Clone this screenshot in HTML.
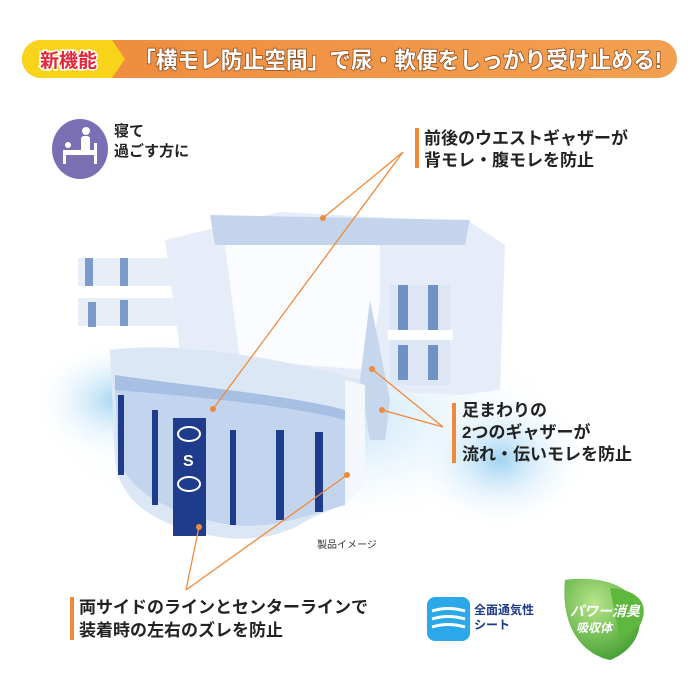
<!DOCTYPE html>
<html><head><meta charset="utf-8"><style>
body{margin:0;width:700px;height:700px;background:#fff;overflow:hidden;position:relative;font-family:"Liberation Sans","Noto Sans CJK JP",sans-serif;}
.t{position:absolute;font-weight:bold;color:#222;line-height:1.3;}
</style></head><body>
<svg width="700" height="700" style="position:absolute;left:0;top:0">
<defs>
<radialGradient id="glow" cx="0.5" cy="0.5" r="0.5"><stop offset="0" stop-color="#9fd3f2"/><stop offset="1" stop-color="#fff" stop-opacity="0"/></radialGradient>
<linearGradient id="ban" x1="0" x2="1"><stop offset="0" stop-color="#f08a3c"/><stop offset="1" stop-color="#f2a050"/></linearGradient>
<radialGradient id="leaf" cx="0.4" cy="0.3" r="0.8"><stop offset="0" stop-color="#b8e68a"/><stop offset="1" stop-color="#3c9a2c"/></radialGradient>
</defs>
<rect x="22" y="40" width="655" height="38" rx="19" fill="url(#ban)"/>
<path d="M41 40 H112 L125 59 L112 78 H41 A19 19 0 0 1 41 40Z" fill="#f7d31a"/>
<text x="40" y="67" font-size="19" font-weight="bold" fill="#e0283a" stroke="#fff" stroke-width="3" paint-order="stroke" font-family="Liberation Sans,Noto Sans CJK JP,sans-serif">新機能</text>
<text x="134" y="68" font-size="23" font-weight="bold" fill="#fff" stroke="#8a4a1e" stroke-width="1.5" paint-order="stroke" font-family="Liberation Sans,Noto Sans CJK JP,sans-serif" textLength="528" lengthAdjust="spacingAndGlyphs">「横モレ防止空間」で尿・軟便をしっかり受け止める!</text>
<ellipse cx="80" cy="149" rx="28" ry="30" fill="#7b6fb3"/>
<rect x="63" y="150" width="34" height="5" fill="#fff"/><rect x="63" y="150" width="3" height="14" fill="#fff"/><rect x="94" y="143" width="3" height="21" fill="#fff"/>
<circle cx="86" cy="131" r="4" fill="#fff"/><rect x="81" y="136" width="9" height="16" rx="3" fill="#fff"/><circle cx="68" cy="145" r="3" fill="#fff"/>
<ellipse cx="300" cy="420" rx="280" ry="110" fill="url(#glow)" opacity="0.8"/>
<ellipse cx="120" cy="400" rx="90" ry="60" fill="url(#glow)"/>
<ellipse cx="500" cy="460" rx="90" ry="70" fill="url(#glow)"/>
<rect x="78" y="258" width="100" height="28" fill="#e8eef8"/><rect x="78" y="298" width="100" height="28" fill="#e8eef8"/>
<rect x="85" y="258" width="8" height="28" fill="#7a9bc9"/><rect x="120" y="258" width="8" height="28" fill="#7a9bc9"/>
<rect x="88" y="302" width="8" height="25" fill="#7a9bc9"/><rect x="120" y="300" width="8" height="26" fill="#7a9bc9"/>
<path d="M165 240 L280 212 L470 222 L505 245 L500 390 L460 395 L360 390 L180 350 Z" fill="#e6edf9"/>
<path d="M210 215 L470 220 L465 245 L215 245Z" fill="#c4d4ec"/>
<path d="M225 245 L380 245 L380 300 L370 370 L240 360 Z" fill="#fbfcff"/>
<rect x="390" y="285" width="60" height="100" fill="#dde6f4"/>
<rect x="398" y="285" width="10" height="55" fill="#6f92c4"/><rect x="428" y="285" width="10" height="55" fill="#6f92c4"/>
<rect x="398" y="345" width="10" height="35" fill="#6f92c4"/><rect x="428" y="345" width="10" height="35" fill="#6f92c4"/>
<rect x="388" y="330" width="65" height="10" fill="#fff"/>
<path d="M370 300 L390 400 L385 440 L370 440 L360 380 Z" fill="#c6d6ec"/>
<path d="M110 350 C180 340 290 360 360 380 L365 480 C350 510 320 510 300 525 C260 545 220 540 190 530 C150 520 120 500 115 460 Z" fill="#dce7f6"/>
<path d="M115 385 C180 385 290 400 345 415 L345 505 C310 515 270 530 230 525 C170 515 125 490 118 455 Z" fill="#c2d4ee"/>
<path d="M115 375 C180 385 290 395 345 410 L345 420 C290 405 180 395 115 390Z" fill="#a6bfe3"/>
<path d="M345 380 L365 385 L365 485 L345 505Z" fill="#f4f7fc"/>
<rect x="173" y="418" width="33" height="118" fill="#1f3c8c"/>
<g fill="#1f3c8c">
<rect x="118" y="395" width="6" height="80"/><rect x="152" y="410" width="6" height="95"/><rect x="230" y="430" width="6" height="95"/>
<rect x="276" y="430" width="8" height="90"/><rect x="315" y="432" width="8" height="80"/>
</g>
<text x="183" y="466" font-size="16" font-weight="bold" fill="#fff" font-family="Liberation Sans,sans-serif">S</text>
<ellipse cx="189" cy="434" rx="11" ry="7" fill="none" stroke="#fff" stroke-width="2"/>
<ellipse cx="189" cy="484" rx="11" ry="7" fill="none" stroke="#fff" stroke-width="2"/>
<g stroke="#ef8a3a" stroke-width="1.3" fill="none">
<path d="M323 218 L403 152 L213 409"/>
<path d="M372 369 L443 427 L382 410"/>
<path d="M199 527 L186 590 M347 475 L186 590"/>
</g>
<g fill="#ef8a3a"><circle cx="323" cy="218" r="3"/><circle cx="213" cy="409" r="3"/><circle cx="372" cy="369" r="3"/><circle cx="382" cy="410" r="3"/><circle cx="347" cy="475" r="3"/><circle cx="199" cy="527" r="3"/></g>
<rect x="415" y="128" width="4" height="40" fill="#ef8a3a"/>
<rect x="452" y="403" width="4" height="60" fill="#ef8a3a"/>
<rect x="70" y="597" width="4" height="43" fill="#ef8a3a"/>
<rect x="427" y="597" width="43" height="44" rx="8" fill="#2ba8ea"/>
<g stroke="#fff" stroke-width="3" fill="none"><path d="M432 611 Q448 606 465 611"/><path d="M432 619 Q448 614 465 619"/><path d="M432 627 Q448 622 465 627"/></g>
<path d="M565 580 C600 575 640 585 640 620 C640 650 610 660 610 660 C585 655 560 630 565 580Z" fill="url(#leaf)"/>
<path d="M610 588 C640 590 650 605 640 625 L620 640Z" fill="#5fb83e"/>
</svg>
<div class="t" style="left:114px;top:122px;font-size:15px">寝て<br>過ごす方に</div>
<div class="t" style="left:424px;top:128px;font-size:17px;line-height:22px">前後のウエストギャザーが<br>背モレ・腹モレを防止</div>
<div class="t" style="left:462px;top:400px;font-size:17px;line-height:22px">足まわりの<br>2つのギャザーが<br>流れ・伝いモレを防止</div>
<div class="t" style="left:79px;top:596px;font-size:17px;line-height:23px">両サイドのラインとセンターラインで<br>装着時の左右のズレを防止</div>
<div class="t" style="left:317px;top:539px;font-size:10px;font-weight:normal;color:#333">製品イメージ</div>
<div class="t" style="left:474px;top:603px;font-size:12px;line-height:15px;color:#1e3a8a">全面通気性<br>シート</div>
<div class="t" style="left:570px;top:603px;font-size:14px;line-height:16px;color:#fff;font-style:italic">パワー消臭<br><span style="font-size:12px;margin-left:6px">吸収体</span></div>
</body></html>
